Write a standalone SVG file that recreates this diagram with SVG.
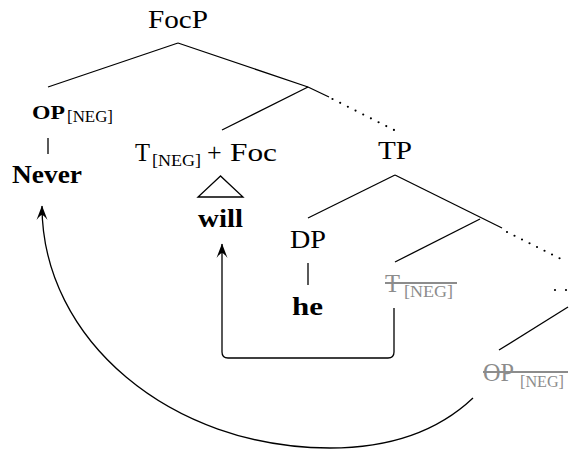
<svg xmlns="http://www.w3.org/2000/svg" width="575" height="450" viewBox="0 0 575 450">
<style>
  text { font-family: "Liberation Serif", "Times New Roman", serif; fill: #000; }
  .lbl { font-size: 26px; }
  .b { font-weight: bold; }
  .sub { font-size: 17px; }
  .gray { fill: #8c8c8c; }
  .edge { stroke: #000; stroke-width: 1.3; fill: none; }
  .dot { stroke: #000; stroke-width: 2.2; stroke-linecap: round; fill: none; }
  .strike { stroke: #8c8c8c; stroke-width: 2; }
  .mv { stroke: #000; stroke-width: 1.3; fill: none; marker-end: url(#arr); }
</style>
<defs>
  <marker id="arr" markerUnits="userSpaceOnUse" markerWidth="20" markerHeight="20" viewBox="-16 -8 20 16" refX="0" refY="0" orient="auto" overflow="visible">
    <path d="M0.5,0 L-14,-5.5 Q-9,-1.5 -9,0 Q-9,1.5 -14,5.5 Z" fill="#000"/>
  </marker>
</defs>

<g id="connectors">
  <path class="edge" d="M178,43 L48,87"/>
  <path class="edge" d="M178,43 L308,87 L329,97"/>
  <path class="edge" d="M308,87 L222,130"/>
  <path class="dot" d="M332.5,99 L394,130" stroke-dasharray="0 8.6"/>
  <path class="edge" d="M48,138 V154"/>
  <path class="edge" d="M220.5,176 L198,197 H243 Z"/>
  <path class="edge" d="M395,175 L308,218"/>
  <path class="edge" d="M395,175 L502,228"/>
  <path class="edge" d="M480,219 L395,262"/>
  <path class="dot" d="M507,232 L567,262" stroke-dasharray="0 8.39"/>
  <path class="edge" d="M308,263 V285"/>
  <path class="dot" d="M555,290 L588,290" stroke-dasharray="0 11"/>
  <path class="edge" d="M568,307 L499,350"/>
  <path class="mv" d="M394,308 V352 Q394,358 388,358 H228 Q222,358 222,352 V244"/>
  <path class="mv" d="M473,398 C435,434 385,448 330,448 C171,448 42,340 42,206"/>
</g>

<g id="node-FocP">
  <text class="lbl" x="148" y="28" textLength="60" lengthAdjust="spacingAndGlyphs">FocP</text>
</g>
<g id="node-OP">
  <text class="b" x="32" y="119" font-size="19" textLength="33" lengthAdjust="spacingAndGlyphs">OP</text>
  <text class="sub" x="67" y="122" textLength="46" lengthAdjust="spacingAndGlyphs">[NEG]</text>
</g>
<g id="node-Never">
  <text class="lbl b" x="12" y="183" textLength="70" lengthAdjust="spacingAndGlyphs">Never</text>
</g>
<g id="node-TFoc">
  <text class="lbl" x="135" y="161" textLength="15" lengthAdjust="spacingAndGlyphs">T</text>
  <text class="sub" x="152" y="166" textLength="49" lengthAdjust="spacingAndGlyphs">[NEG]</text>
  <text class="lbl" x="207" y="161">+</text>
  <text class="lbl" x="230" y="161" textLength="47" lengthAdjust="spacingAndGlyphs">Foc</text>
</g>
<g id="node-will">
  <text class="lbl b" x="198" y="227" textLength="45" lengthAdjust="spacingAndGlyphs">will</text>
</g>
<g id="node-TP">
  <text class="lbl" x="378" y="159" textLength="34" lengthAdjust="spacingAndGlyphs">TP</text>
</g>
<g id="node-DP">
  <text class="lbl" x="290" y="248" textLength="36" lengthAdjust="spacingAndGlyphs">DP</text>
</g>
<g id="node-he">
  <text class="lbl b" x="292" y="315" textLength="31" lengthAdjust="spacingAndGlyphs">he</text>
</g>
<g id="node-Tneg">
  <text class="lbl gray" x="385" y="292" textLength="15" lengthAdjust="spacingAndGlyphs">T</text>
  <text class="sub gray" x="404" y="297" textLength="49" lengthAdjust="spacingAndGlyphs">[NEG]</text>
  <line class="strike" x1="385" y1="283" x2="457" y2="283"/>
</g>
<g id="node-OPneg">
  <text class="lbl gray" x="483" y="381" textLength="31" lengthAdjust="spacingAndGlyphs">OP</text>
  <text class="sub gray" x="520" y="387" textLength="44" lengthAdjust="spacingAndGlyphs">[NEG]</text>
  <line class="strike" x1="483" y1="372" x2="568" y2="372"/>
</g>
</svg>
